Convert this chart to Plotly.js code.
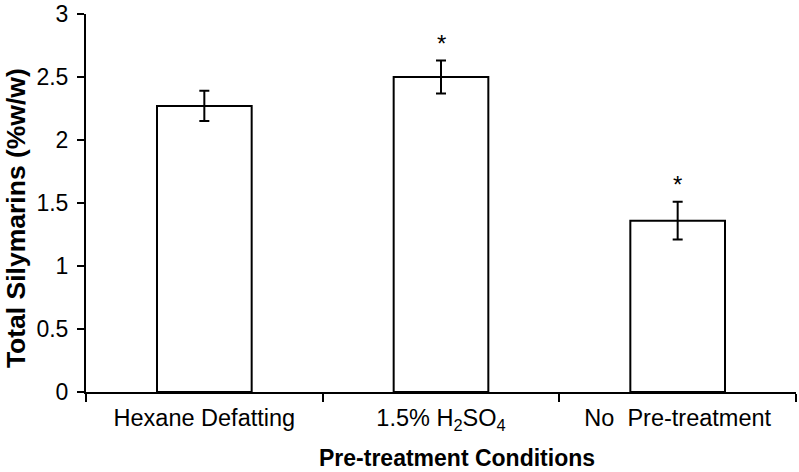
<!DOCTYPE html>
<html>
<head>
<meta charset="utf-8">
<script src="https://cdn.plot.ly/plotly-3.0.1.min.js"></script>
<style>html,body{margin:0;padding:0;background:#fff;}#chart{width:799px;height:472px;}</style>
</head>
<body>
<div id="chart"></div>
<script>
var categories = ["Hexane Defatting", "1.5% H<sub>2</sub>SO<sub>4</sub>", "No  Pre-treatment"];
var values = [2.27, 2.50, 1.36];
var errors = [0.12, 0.13, 0.15];
var significant = [false, true, true];
var yTicks = [0, 0.5, 1, 1.5, 2, 2.5, 3];
var xTitle = "Pre-treatment Conditions";
var yTitle = "Total Silymarins (%w/w)";

var font = "Liberation Sans, Arial, Helvetica, sans-serif";

var trace = {
  type: "bar",
  x: categories,
  y: values,
  width: 0.4,
  marker: {color: "#ffffff", line: {color: "#000000", width: 2}},
  error_y: {type: "data", array: errors, visible: true, color: "#000000", thickness: 2, width: 5},
  hoverinfo: "none"
};

var annotations = [];
for (var i = 0; i < categories.length; i++) {
  if (significant[i]) {
    annotations.push({
      x: categories[i], y: values[i] + errors[i], xref: "x", yref: "y",
      text: "*", showarrow: false, yshift: 17,
      font: {family: font, size: 24, color: "#000"}
    });
  }
}
annotations.push({
  xref: "paper", yref: "paper", x: 0.5225, y: -0.175,
  xanchor: "center", yanchor: "middle", showarrow: false,
  text: "<b>" + xTitle + "</b>",
  font: {family: font, size: 23, color: "#000"}
});
annotations.push({
  xref: "paper", yref: "paper", x: -0.0986, y: 0.46,
  xanchor: "center", yanchor: "middle", showarrow: false, textangle: -90,
  text: "<b>" + yTitle + "</b>",
  font: {family: font, size: 26.5, color: "#000"}
});

var layout = {
  width: 799, height: 472,
  margin: {l: 86, r: 3, t: 14, b: 80, pad: 0},
  paper_bgcolor: "#fff", plot_bgcolor: "#fff",
  showlegend: false,
  xaxis: {
    type: "category",
    tickson: "boundaries",
    ticks: "outside", ticklen: 8, tickwidth: 2, tickcolor: "#000",
    showline: true, linecolor: "#000", linewidth: 2,
    showgrid: false, zeroline: false,
    ticklabelstandoff: 4,
    tickfont: {family: font, size: 23.5, color: "#000"},
    range: [-0.5, 2.5], fixedrange: true
  },
  yaxis: {
    range: [0, 3], tickvals: yTicks, ticktext: yTicks.map(String),
    ticks: "outside", ticklen: 7, tickwidth: 2, tickcolor: "#000",
    showline: true, linecolor: "#000", linewidth: 2,
    showgrid: false, zeroline: false,
    ticklabelstandoff: 4,
    tickfont: {family: font, size: 23, color: "#000"},
    fixedrange: true
  },
  annotations: annotations
};

Plotly.newPlot("chart", [trace], layout, {staticPlot: true, displayModeBar: false});
</script>
</body>
</html>
